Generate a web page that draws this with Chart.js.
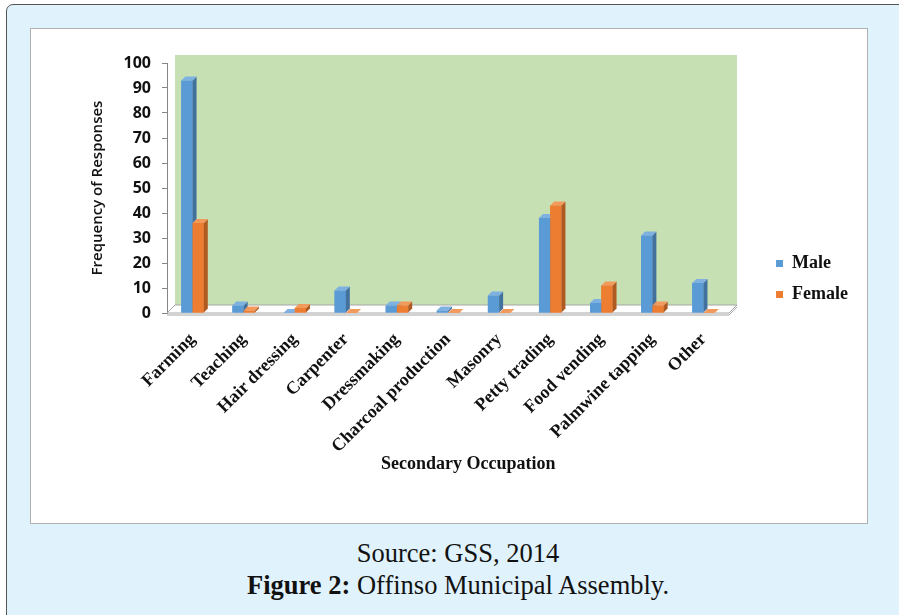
<!DOCTYPE html>
<html>
<head>
<meta charset="utf-8">
<script src="https://cdn.jsdelivr.net/npm/chart.js@4.4.0/dist/chart.umd.min.js"></script>
<style>
  body { margin: 0; width: 899px; height: 615px; background: #fff; position: relative; overflow: hidden; }
  .frame { position: absolute; left: 6px; top: 4px; width: 910px; height: 640px; background: #e0f2fb;
           border: 1px solid #555; border-radius: 7px; box-sizing: border-box; }
  .panel { position: absolute; left: 30px; top: 28px; width: 838px; height: 496px; background: #fff;
           border: 1px solid #b0b0b0; box-sizing: border-box; }
  .caption { position: absolute; left: 0; top: 537px; width: 916px; text-align: center;
             font-family: "Liberation Serif", "DejaVu Serif", serif; font-size: 26.5px; line-height: 32px; color: #111; }
</style>
</head>
<body>
<div class="frame"></div>
<div class="panel"><canvas id="grafico" width="836" height="494"></canvas></div>
<div class="caption">Source: GSS, 2014<br><b>Figure 2:</b> Offinso Municipal Assembly.</div>

<script>
// --- datos ---
const ocupaciones = ["Farming", "Teaching", "Hair dressing", "Carpenter", "Dressmaking",
  "Charcoal production", "Masonry", "Petty trading", "Food vending", "Palmwine tapping", "Other"];
const male   = [93, 3, 0, 9, 3, 1, 7, 38, 4, 31, 12];
const female = [36, 1, 2, 0, 3, 0, 0, 43, 11, 3, 0];
const yTicks = [0, 10, 20, 30, 40, 50, 60, 70, 80, 90, 100];

const colores = [
  { front: "#5b9bd5", side: "#41719c", top: "#7fb1e0" },  // male
  { front: "#ed7d31", side: "#ae5a21", top: "#f29a5c" }   // female
];

// pared verde, piso y caras laterales de las barras (efecto 3D)
const efecto3D = {
  id: "efecto3D",
  beforeDatasetsDraw(chart) {
    const { ctx, chartArea: a } = chart;
    const d = 8;
    ctx.save();
    ctx.fillStyle = "#c6e0b4";
    ctx.fillRect(a.left + d, a.top - d, a.right - a.left, a.bottom - a.top);
    // piso
    ctx.beginPath();
    ctx.moveTo(a.left, a.bottom);
    ctx.lineTo(a.right, a.bottom);
    ctx.lineTo(a.right + d, a.bottom - d);
    ctx.lineTo(a.left + d, a.bottom - d);
    ctx.closePath();
    ctx.fillStyle = "#fff";
    ctx.fill();
    ctx.strokeStyle = "#a6a6a6";
    ctx.lineWidth = 1;
    ctx.stroke();
    ctx.beginPath();
    ctx.moveTo(a.left, a.bottom + 2);
    ctx.lineTo(a.right, a.bottom + 2);
    ctx.lineTo(a.right + d, a.bottom - d + 2);
    ctx.stroke();
    ctx.restore();
  },
  afterDatasetsDraw(chart) {
    const { ctx } = chart;
    const dx = 4, dy = 4;
    ctx.save();
    chart.data.datasets.forEach((ds, i) => {
      const c = colores[i];
      chart.getDatasetMeta(i).data.forEach(bar => {
        const { x, y, base, width } = bar.getProps(["x", "y", "base", "width"], true);
        const r = x + width / 2, l = x - width / 2;
        // la cara frontal se repinta para tapar el lateral de la barra anterior
        ctx.fillStyle = c.front;
        ctx.fillRect(l, y, width, base - y);
        ctx.fillStyle = c.side;
        ctx.beginPath();
        ctx.moveTo(r, y); ctx.lineTo(r + dx, y - dy); ctx.lineTo(r + dx, base - dy); ctx.lineTo(r, base);
        ctx.closePath(); ctx.fill();
        ctx.fillStyle = c.top;
        ctx.beginPath();
        ctx.moveTo(l, y); ctx.lineTo(l + dx, y - dy); ctx.lineTo(r + dx, y - dy); ctx.lineTo(r, y);
        ctx.closePath(); ctx.fill();
      });
    });
    ctx.restore();
  }
};

new Chart(document.getElementById("grafico"), {
  type: "bar",
  data: {
    labels: ocupaciones,
    datasets: [
      { label: "Male", data: male, backgroundColor: colores[0].front },
      { label: "Female", data: female, backgroundColor: colores[1].front }
    ]
  },
  options: {
    responsive: false,
    animation: false,
    categoryPercentage: 0.44,
    barPercentage: 1.0,
    layout: { padding: { left: 56, top: 34, right: 9, bottom: 28 } },
    plugins: {
      legend: {
        position: "right",
        labels: {
          boxWidth: 7, boxHeight: 7, padding: 13, color: "#111",
          font: { family: "Liberation Serif", weight: "bold", size: 18 }
        }
      },
      tooltip: { enabled: false }
    },
    scales: {
      x: {
        grid: { display: false },
        border: { display: false },
        ticks: {
          maxRotation: 45, minRotation: 45, padding: 8, color: "#111",
          font: { family: "Liberation Serif", weight: "bold", size: 18 }
        },
        title: {
          display: true, text: "\u00a0\u00a0\u00a0\u00a0\u00a0\u00a0\u00a0\u00a0\u00a0Secondary Occupation", color: "#111",
          padding: { top: 0, bottom: 20 },
          font: { family: "Liberation Serif", weight: "bold", size: 18 }
        },
        afterFit: s => { s.height = 182; }
      },
      y: {
        min: 0, max: 100,
        afterBuildTicks: s => { s.ticks = yTicks.map(v => ({ value: v })); },
        grid: { drawOnChartArea: false, color: "#868686", tickLength: 5 },
        border: { color: "#868686" },
        ticks: {
          padding: 11, color: "#111",
          font: { family: "Open Sans", weight: "bold", size: 16 }
        },
        title: {
          display: true, text: "Frequency of Responses", color: "#111", padding: 2,
          font: { family: "Open Sans", weight: "600", size: 15 }
        },
        afterFit: s => { s.width = 80; }
      },
      yR: {
        position: "right",
        grid: { display: false },
        border: { display: false },
        ticks: { display: false },
        afterFit: s => { s.width = 34; }
      }
    }
  },
  plugins: [efecto3D]
});
</script>
</body>
</html>
